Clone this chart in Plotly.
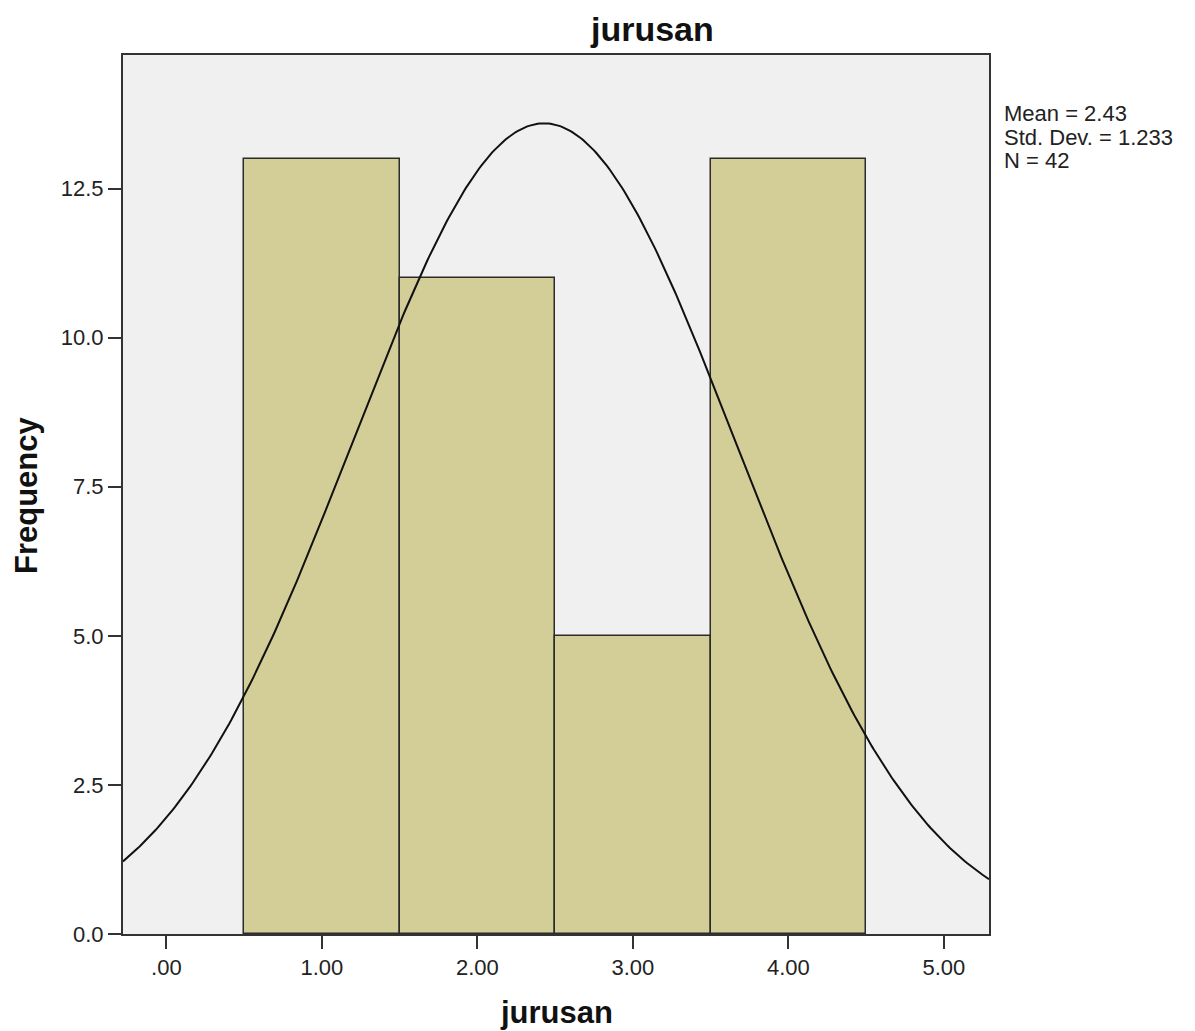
import numpy as np
import plotly.graph_objects as go

# ---- data ----
bin_centers = [1.0, 2.0, 3.0, 4.0]
frequencies = [13, 11, 5, 13]
x_tick_vals = [0, 1, 2, 3, 4, 5]
x_tick_text = [".00", "1.00", "2.00", "3.00", "4.00", "5.00"]
y_tick_vals = [0, 2.5, 5.0, 7.5, 10.0, 12.5]
y_tick_text = ["0.0", "2.5", "5.0", "7.5", "10.0", "12.5"]
stat_lines = ["Mean = 2.43", "Std. Dev. = 1.233", "N = 42"]
title_text = "jurusan"
x_title = "jurusan"
y_title = "Frequency"

# ---- fitted normal curve from the data ----
vals = np.repeat(bin_centers, frequencies)
n = len(vals)
mean = vals.mean()
sd = vals.std(ddof=1)
bin_w = 1.0
x_range = [-0.279, 5.29]
y_range = [0, 14.74]
xc = np.linspace(x_range[0], x_range[1], 400)
yc = n * bin_w / (sd * np.sqrt(2 * np.pi)) * np.exp(-0.5 * ((xc - mean) / sd) ** 2)

# page body margin offsets the figure by 8px
OFF = 8
W, H = 1195 - OFF, 1031 - OFF
# plot area in screen pixels
L, R, T, B = 123, 989, 55, 934
pw, ph = R - L, B - T

def px(x):
    return (x - L) / pw

def py(y):
    return (B - y) / ph

FONT = "Liberation Sans, Arial, sans-serif"

fig = go.Figure()
fig.add_trace(go.Bar(
    x=bin_centers, y=frequencies, width=bin_w,
    marker=dict(color="#d3ce98", line=dict(color="#2b2b2b", width=1.5)),
    showlegend=False, hoverinfo="x+y",
))
fig.add_trace(go.Scatter(
    x=xc, y=yc, mode="lines",
    line=dict(color="#111111", width=2),
    showlegend=False, hoverinfo="skip",
))

axis_common = dict(
    showline=True, linecolor="#333333", linewidth=2, mirror=True,
    ticks="outside", ticklen=13, tickwidth=2, tickcolor="#333333",
    showgrid=False, zeroline=False,
    tickfont=dict(family=FONT, size=22, color="#222222"),
)

fig.update_layout(
    width=W, height=H,
    margin=dict(l=L - OFF, r=(W + OFF) - R, t=T - OFF, b=(H + OFF) - B, pad=0),
    paper_bgcolor="white", plot_bgcolor="#f0f0f0",
    bargap=0,
    xaxis=dict(range=x_range, tickvals=x_tick_vals, ticktext=x_tick_text, **axis_common),
    yaxis=dict(range=y_range, tickvals=y_tick_vals, ticktext=y_tick_text, **axis_common),
)

annots = [
    dict(text=f"<b>{title_text}</b>", x=px(652), y=py(29), xref="paper", yref="paper",
         xanchor="center", yanchor="middle", showarrow=False,
         font=dict(family=FONT, size=34, color="#111111")),
    dict(text=f"<b>{x_title}</b>", x=px(556), y=py(1012), xref="paper", yref="paper",
         xanchor="center", yanchor="middle", showarrow=False,
         font=dict(family=FONT, size=31, color="#111111")),
    dict(text=f"<b>{y_title}</b>", x=px(26), y=py(495), xref="paper", yref="paper",
         xanchor="center", yanchor="middle", showarrow=False, textangle=-90,
         font=dict(family=FONT, size=31, color="#111111")),
]
for i, line in enumerate(stat_lines):
    annots.append(dict(text=line, x=px(1002), y=py(114 + 23.3 * i), xref="paper", yref="paper",
                       xanchor="left", yanchor="middle", showarrow=False,
                       font=dict(family=FONT, size=22, color="#222222")))
fig.update_layout(annotations=annots)

fig.write_html("out.html")
